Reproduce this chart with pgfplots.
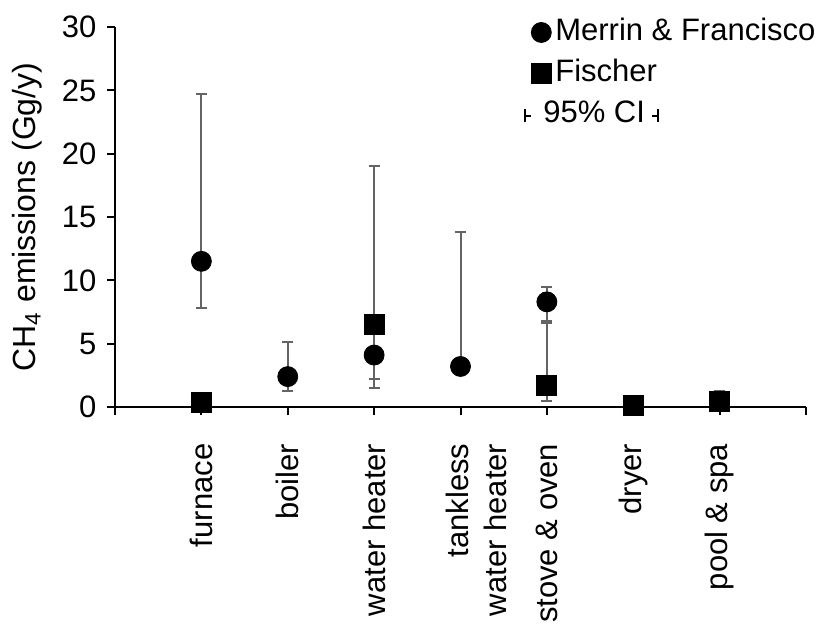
\documentclass[border=0pt]{standalone}
\usepackage{fontspec}
\setmainfont{Liberation Sans}
\usepackage{pgfplots}
\pgfplotsset{compat=1.18}
\definecolor{errgray}{RGB}{100,100,100}
\newcommand{\bigfont}{\fontsize{15.5}{18.6}\selectfont}
\newcommand{\ciL}{\rule{1pt}{6.5pt}\rule[2.7pt]{2.5pt}{1pt}}
\newcommand{\ciR}{\rule[2.7pt]{2.5pt}{1pt}\rule{1pt}{6.5pt}}
\begin{document}
\bigfont
\begin{tikzpicture}
\begin{axis}[
  scale only axis, width=345.5pt, height=190pt,
  xmin=0, xmax=8, ymin=0, ymax=30,
  axis x line*=bottom, axis y line*=left,
  axis line style={line width=1pt, black},
  tick align=outside, major tick length=4pt,
  tick style={line width=1pt, black},
  xtick={0,...,8},
  xticklabels={,furnace,boiler,water heater,,stove \& oven,dryer,pool \& spa,},
  extra x ticks={4.185},
  extra x tick labels={tankless\\water heater},
  extra x tick style={tick style={draw=none}, xticklabel style={align=right}},
  xticklabel style={rotate=90, anchor=east, font=\bigfont},
  xticklabel shift=9pt,
  ytick={0,5,...,30},
  yticklabel style={font=\bigfont, /pgf/number format/assume math mode=true},
  ylabel={CH\textsubscript{4} emissions (Gg/y)},
  ylabel style={font=\fontsize{16}{19}\selectfont, at={(axis description cs:-0.127,0.5)}, anchor=center},
  legend style={draw=none, fill=none, font=\bigfont, at={(rel axis cs:0.583,1.034)}, anchor=north west,
    nodes={inner sep=0pt, text height=11pt, text depth=3pt}, row sep=6.5pt, column sep=2pt},
  legend cell align=left,
  clip=false,
]
% Fischer (drawn first so the circles sit on top; legend entry added below)
\addplot[only marks, mark=square*, mark size=5pt, black, forget plot,
  error bars/.cd, y dir=both, y explicit, error mark=-,
  error bar style={errgray, line width=1pt},
  error mark options={errgray, line width=1pt, mark size=2.75pt, rotate=90}]
  coordinates {
  (1,0.4) += (0,0.1) -= (0,0.1)
  (3,6.5) += (0,12.55) -= (0,5.0)
  (5,1.7) += (0,4.9) -= (0,1.2)
  (6,0.1) += (0,0.05) -= (0,0.05)
  (7,0.42) += (0,0.84) -= (0,0.3)
  };
% Merrin & Francisco
\addplot[only marks, mark=*, mark size=5pt, black,
  error bars/.cd, y dir=both, y explicit, error mark=-,
  error bar style={errgray, line width=1pt},
  error mark options={errgray, line width=1pt, mark size=2.75pt, rotate=90}]
  coordinates {
  (1,11.5) += (0,13.2) -= (0,3.7)
  (2,2.4) += (0,2.7) -= (0,1.14)
  (3,4.1) += (0,0.3) -= (0,1.9)
  (4,3.2) += (0,10.65) -= (0,0.3)
  (5,8.3) += (0,1.2) -= (0,1.5)
  };
\addlegendentry{Merrin \& Francisco}
\addlegendimage{only marks, mark=square*, mark size=5pt, black}
\addlegendentry{Fischer}
\addlegendimage{empty legend}
\addlegendentry{\hspace*{-15.5pt}\ciL\hspace{6pt}95\% CI\hspace{3.5pt}\ciR}
\end{axis}
\pgfresetboundingbox
\path[use as bounding box] (-57.5pt,-109.5pt) rectangle (354.5pt,203.5pt);
\end{tikzpicture}
\end{document}
